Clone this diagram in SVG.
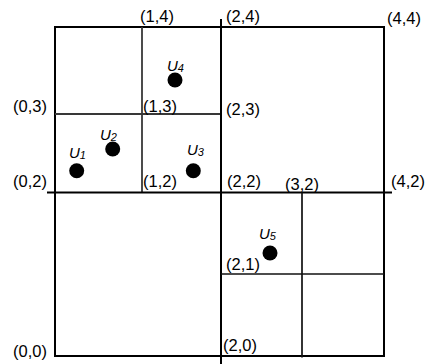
<svg xmlns="http://www.w3.org/2000/svg" width="430" height="364" viewBox="0 0 430 364">
<style>
.bk{stroke:#000;stroke-width:2;fill:none}
.th{stroke:#111;stroke-width:1.7;fill:none}
.gr{stroke:#383838;stroke-width:1.8;fill:none}
.lb{font-family:"Liberation Sans",Arial,sans-serif;font-size:16.5px;fill:#000}
.u{font-family:"Liberation Sans",Arial,sans-serif;font-size:15px;font-style:italic;fill:#000}
.s{font-size:11px}
.pt{fill:#000}
</style>
<rect width="430" height="364" fill="#fff"/>
<g id="grid">
<rect class="bk" x="55" y="27" width="329" height="329"/>
<line class="gr" x1="142" y1="27" x2="142" y2="192.5"/>
<line class="gr" x1="55" y1="114" x2="221" y2="114"/>
<line class="bk" x1="221" y1="19" x2="221" y2="364"/>
<line class="bk" x1="47" y1="192.5" x2="392" y2="192.5"/>
<line class="th" x1="302" y1="192.5" x2="302" y2="357.5"/>
<line class="th" x1="221" y1="274" x2="384" y2="274"/>
</g>
<g id="labels">
<text class="lb" x="140" y="22">(1,4)</text>
<text class="lb" x="226" y="22">(2,4)</text>
<text class="lb" x="387" y="24">(4,4)</text>
<text class="lb" x="13" y="112">(0,3)</text>
<text class="lb" x="143" y="112">(1,3)</text>
<text class="lb" x="226" y="114.5">(2,3)</text>
<text class="lb" x="13" y="186.5">(0,2)</text>
<text class="lb" x="143" y="187">(1,2)</text>
<text class="lb" x="227" y="187">(2,2)</text>
<text class="lb" x="285" y="190">(3,2)</text>
<text class="lb" x="391" y="187">(4,2)</text>
<text class="lb" x="226" y="269.5">(2,1)</text>
<text class="lb" x="223" y="351">(2,0)</text>
<text class="lb" x="13" y="357">(0,0)</text>
</g>
<g id="U1"><circle class="pt" cx="76.7" cy="170.7" r="7.5"/><text class="u" x="69" y="158">U<tspan class="s" dy="1">1</tspan></text></g>
<g id="U2"><circle class="pt" cx="112.7" cy="149" r="7.5"/><text class="u" x="100" y="140">U<tspan class="s" dy="1">2</tspan></text></g>
<g id="U3"><circle class="pt" cx="193.3" cy="170.7" r="7.5"/><text class="u" x="187" y="155">U<tspan class="s" dy="1">3</tspan></text></g>
<g id="U4"><circle class="pt" cx="175" cy="80" r="7.5"/><text class="u" x="167" y="70.5">U<tspan class="s" dy="1">4</tspan></text></g>
<g id="U5"><circle class="pt" cx="270" cy="253" r="7.5"/><text class="u" x="259" y="238.5">U<tspan class="s" dy="1">5</tspan></text></g>
</svg>
